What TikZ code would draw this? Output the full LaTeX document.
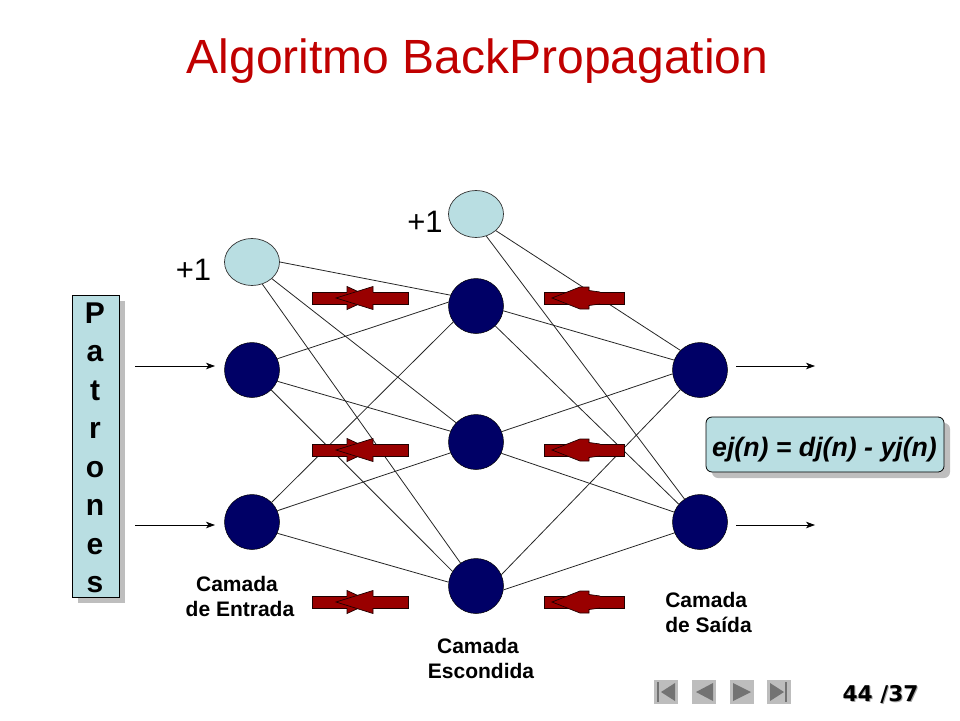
\documentclass[tikz,border=0pt]{standalone}
\usepackage{fontspec}
\setmainfont{Liberation Sans}
\newfontfamily\pagefont{DejaVu Sans}
\usetikzlibrary{shapes.geometric,shadows,arrows.meta}

\definecolor{tituloRed}{RGB}{192,0,0}
\definecolor{barRed}{RGB}{153,0,0}
\definecolor{neuronBlue}{RGB}{0,0,102}
\definecolor{biasCyan}{RGB}{185,222,226}
\definecolor{shadowGray}{RGB}{190,190,190}
\definecolor{navGray}{RGB}{189,189,189}
\definecolor{navDark}{RGB}{115,115,115}

\tikzset{
    neuron/.style={ellipse, draw=black, line width=0.5pt, fill=neuronBlue, minimum width=55pt, minimum height=55pt, inner sep=0pt},
    bias/.style={ellipse, draw=black!80, line width=0.7pt, fill=biasCyan, minimum width=55pt, minimum height=47pt, inner sep=0pt},
    link/.style={line width=0.8pt, black!85},
    flow/.style={-{Stealth[length=9pt,width=6.5pt,inset=2.5pt]}, line width=0.7pt},
    bluebox/.style={draw=black, line width=0.8pt, fill=biasCyan, copy shadow={draw=none, fill=shadowGray, shadow xshift=6pt, shadow yshift=-6pt}},
    camada/.style={font=\fontsize{21}{25}\selectfont\bfseries, inner sep=0pt},
    redbar/.style={draw=black!80!barRed, line width=0.7pt, fill=barRed}
}

\begin{document}
\begin{tikzpicture}[x=1pt, y=-1pt]
    \useasboundingbox (0,0) rectangle (960,720);

    \node[font=\fontsize{48}{50}\selectfont, text=tituloRed, inner sep=0pt] (titulo) at (477.5,61) {Algoritmo BackPropagation};

    % neurons
    \node[bias] (b1) at (252,262) {};
    \node[bias] (b2) at (476,214) {};
    \node[neuron] (e1) at (252,370) {};
    \node[neuron] (e2) at (252,522) {};
    \node[neuron] (h1) at (476,306) {};
    \node[neuron] (h2) at (476,442) {};
    \node[neuron] (h3) at (476,586) {};
    \node[neuron] (s1) at (700,370) {};
    \node[neuron] (s2) at (700,522) {};

    \node[font=\fontsize{31}{33}\selectfont, inner sep=0pt] (mais1) at (193.5,270) {+1};
    \node[font=\fontsize{31}{33}\selectfont, inner sep=0pt] (mais2) at (425,222) {+1};

    % links
    \foreach \from/\fa/\to/\ta in {
        b1/0/h1/157, b1/-40/h2/136, b1/-65/h3/124,
        e1/24/h1/172, e1/-24/h2/157, e1/-46/h3/148,
        e2/45/h1/215, e2/24/h2/203, e2/-24/h3/172,
        b2/-40/s1/135, b2/-65/s2/124,
        h1/-10/s1/159, h1/-46/s2/140,
        h2/22/s1/188, h2/-24/s2/159,
        h3/24/s1/225, h3/-8/s2/203}
        \draw[link] (\from.\fa) -- (\to.\ta);

    % error arrows
    \foreach \y in {298,450,602} {
        \draw[redbar] (312.5,\y-6) rectangle (408,\y+6);
        \draw[redbar] (347,\y-6) -- (347,\y-11.5) -- (372,\y) -- (347,\y+11.5) -- (347,\y+6);
        \draw[redbar] (373,\y-6) -- (373,\y-11.5) -- (336,\y) -- (373,\y+11.5) -- (373,\y+6);
        \draw[redbar] (544,\y-6) rectangle (624,\y+6);
        \draw[redbar] (600,\y-6) -- (589,\y-7.5) -- (589,\y-11) -- (580,\y-11) -- (552,\y) -- (580,\y+11) -- (589,\y+11) -- (589,\y+7.5) -- (600,\y+6);
    }

    % patterns box
    \node[bluebox, minimum width=47pt, minimum height=302pt, inner sep=0pt] (patrones) at (95.5,446) {};
    \node[inner sep=0pt, align=center, font=\fontsize{30}{38.5}\selectfont\bfseries] (letras) at (95,448)
        {P\\a\\t\\r\\o\\n\\e\\s};

    \coordinate (in1) at (135,366);
    \coordinate (in1e) at (215,366);
    \coordinate (in2) at (135,525);
    \coordinate (in2e) at (215,525);
    \coordinate (out1) at (736,366);
    \coordinate (out1e) at (815,366);
    \coordinate (out2) at (736,525);
    \coordinate (out2e) at (815,525);
    \draw[flow] (in1) -- (in1e);
    \draw[flow] (in2) -- (in2e);
    \draw[flow] (out1) -- (out1e);
    \draw[flow] (out2) -- (out2e);

    \node[bluebox, rounded corners=6pt, minimum width=238pt, minimum height=55pt, inner sep=0pt] (erro) at (825,444.5) {};
    \node[font=\fontsize{26.7}{28}\selectfont\bfseries\itshape, inner sep=0pt] (erroTexto) at (824.5,450) {ej(n) = dj(n) - yj(n)};

    \node[camada, align=center] (entrada) at (240,596) {Camada\hspace*{6pt}\\de Entrada};
    \node[camada, align=center] (escondida) at (481,658) {Camada\hspace*{6pt}\\Escondida};
    \node[camada, align=left] (saida) at (708.5,612) {Camada\\de Saída};

    % navigation buttons
    \foreach \x in {654,692,730,767}
        \fill[navGray] (\x,680) rectangle ++(24,24);
    \fill[navDark] (657,682) rectangle (659,702);
    \fill[navDark] (675,683) -- (661,692) -- (675,701) -- cycle;
    \fill[navDark] (713,683) -- (696,692) -- (713,701) -- cycle;
    \fill[navDark] (733,683) -- (751,692) -- (733,701) -- cycle;
    \fill[navDark] (770,683) -- (784,692) -- (770,701) -- cycle;
    \fill[navDark] (785,682) rectangle (787,702);

    \node[font=\fontsize{21.7}{23}\selectfont\pagefont\bfseries, text=black!35, inner sep=0pt] at (881.5,695) {44 /37};
    \node[font=\fontsize{21.7}{23}\selectfont\pagefont\bfseries, inner sep=0pt] (pagina) at (880.5,694) {44 /37};
\end{tikzpicture}
\end{document}
